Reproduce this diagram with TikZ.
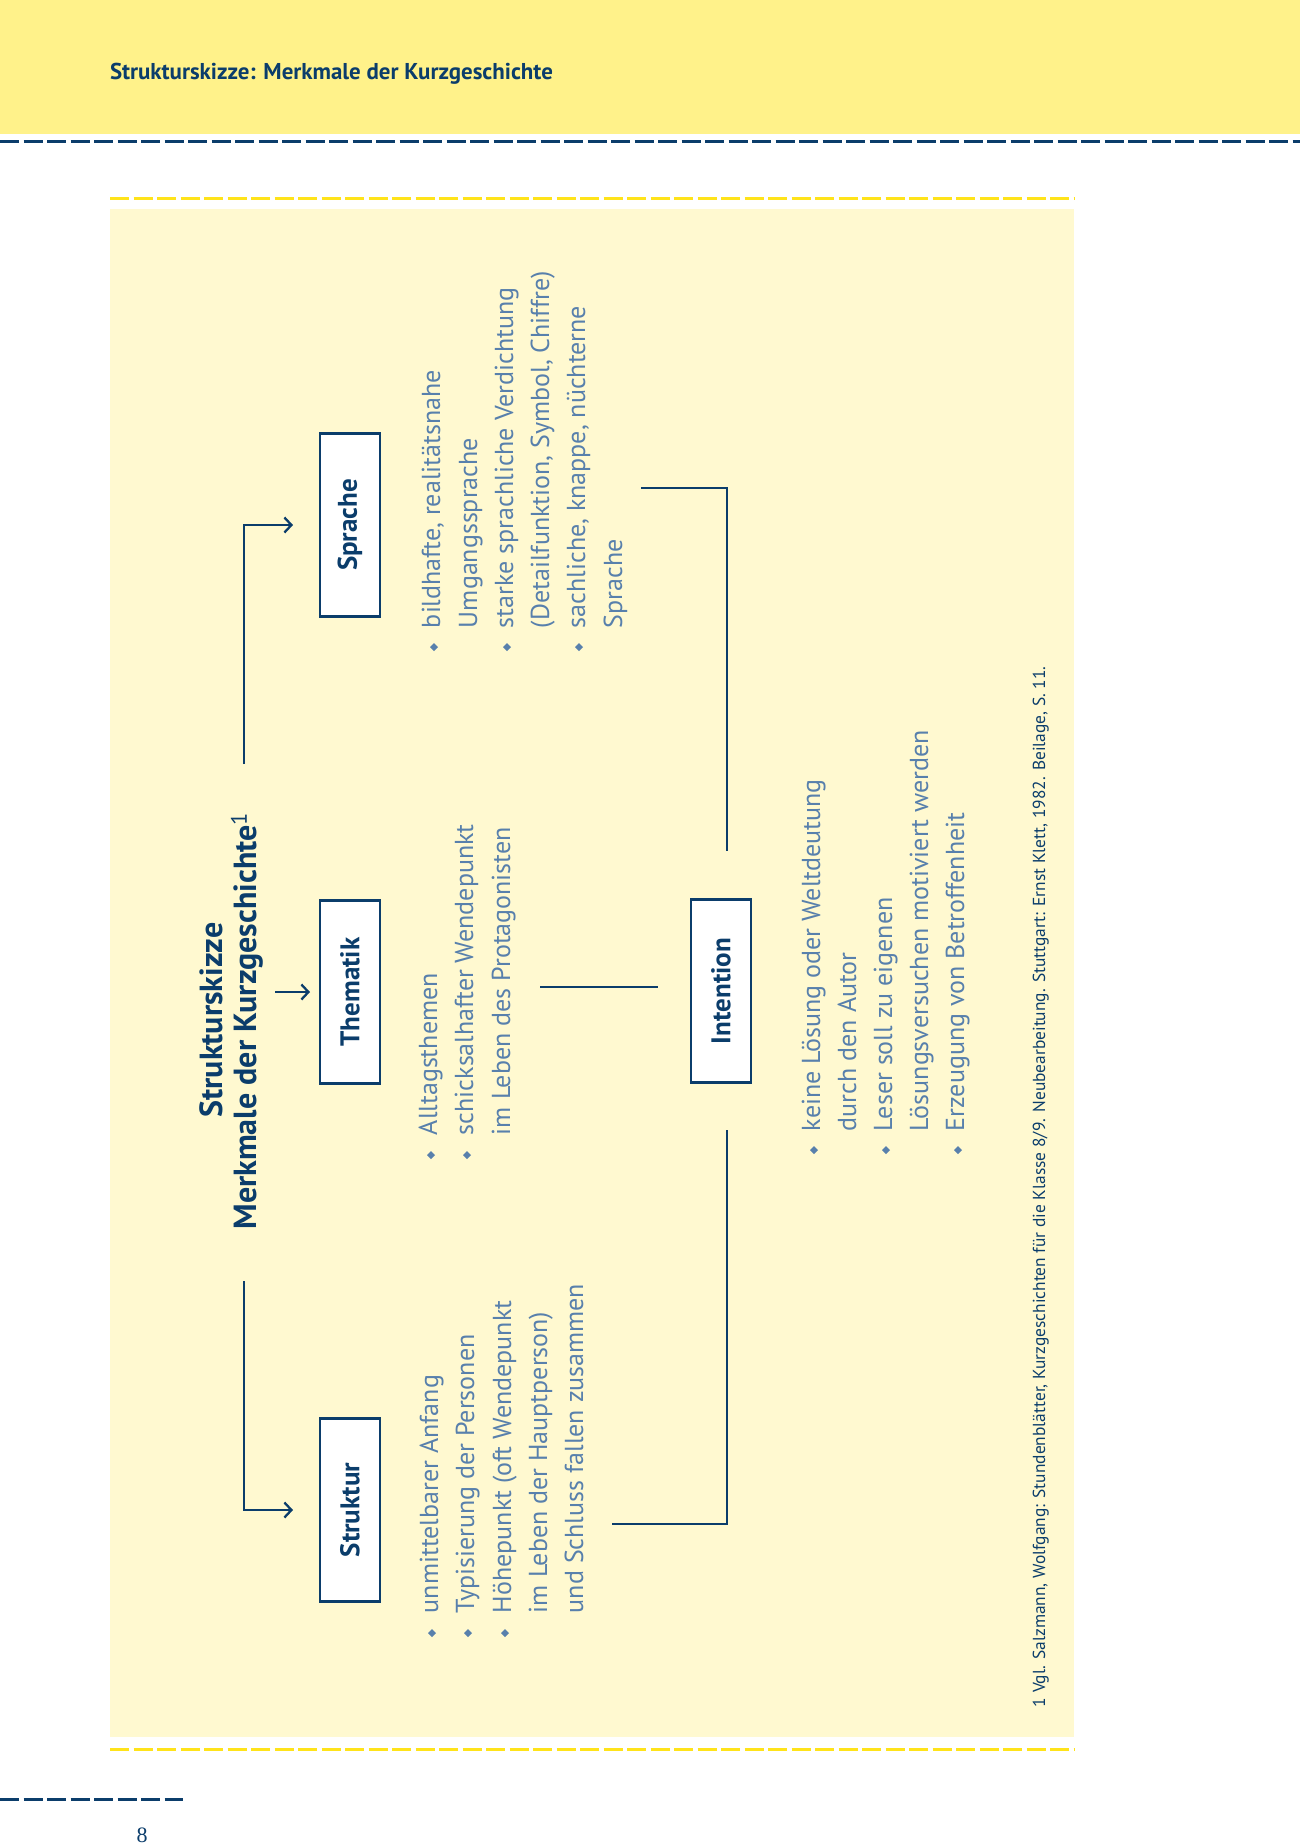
\documentclass[tikz,border=0pt]{standalone}
\usepackage{fontspec}
\setmainfont{PT Sans}
\newfontfamily\pagenumfont{Liberation Serif}
\usetikzlibrary{arrows.meta,shapes.geometric}
\definecolor{hdryellow}{HTML}{FFF28A}
\definecolor{boxyellow}{HTML}{FFF9D0}
\definecolor{dashyellow}{HTML}{FFE31A}
\definecolor{navy}{HTML}{0B3D6B}
\definecolor{lightblue}{HTML}{5880AC}
\begin{document}
\begin{tikzpicture}[x=1pt,y=-1pt,
  every node/.style={inner sep=0pt, outer sep=0pt},
  catbox/.style={draw=navy, line width=2.6pt, fill=white, rotate=90,
    minimum width=183pt, minimum height=60pt, text=navy,
    font=\fontsize{27}{32}\selectfont\bfseries},
  listtext/.style={rotate=90, anchor=base west, text=lightblue,
    font=\fontsize{26}{30}\selectfont},
  bul/.style={diamond, fill=lightblue, minimum width=8pt, minimum height=8pt},
  titletext/.style={rotate=90, anchor=base, text=navy,
    font=\fontsize{32}{36}\selectfont\bfseries},
  arrowline/.style={draw=navy, line width=2.3pt,
    -{Straight Barb[length=7pt,width=15pt]}},
  conn/.style={draw=navy, line width=2.7pt},
  navydash/.style={draw=navy, line width=3pt, dash pattern=on 19pt off 4.5pt},
  yellowdash/.style={draw=dashyellow, line width=3pt, dash pattern=on 19pt off 4.5pt}
]
\useasboundingbox (0,0) rectangle (1300,1848);
% page background pieces
\fill[hdryellow] (0,0) rectangle (1300,134);
\draw[navydash] (0,141) -- (1300,141);
\draw[yellowdash] (110,198) -- (1074,198);
\fill[boxyellow] (110,209) rectangle (1074,1737);
\draw[yellowdash] (110,1749) -- (1074,1749);
\draw[navydash] (0,1799) -- (183,1799);

% header and page number
\node[anchor=base west, text=navy, font=\fontsize{22.9}{27}\selectfont\bfseries] (hdr) at (110,79)
  {Strukturskizze: Merkmale der Kurzgeschichte};
\node[text=navy, font=\pagenumfont\fontsize{22}{26}\selectfont] (pnum) at (142,1835) {8};

% title
\node[titletext] (t1) at (222,1020) {Strukturskizze};
\node[titletext] (t2) at (256,1021) {Merkmale der Kurzgeschichte\textsuperscript{\mdseries 1}};

% category boxes
\node[catbox] (struktur) at (350,1510) {Struktur};
\node[catbox] (thematik) at (350,992) {Thematik};
\node[catbox] (sprache) at (350,525) {Sprache};
\node[catbox] (intention) at (721,991) {Intention};

% arrows from title
\coordinate (fa) at (244,1281);
\coordinate (fb) at (244,764);
\coordinate (fc) at (275,992);
\draw[arrowline, shorten >=27pt] (fa) |- (struktur.north);
\draw[arrowline, shorten >=27pt] (fb) |- (sprache.north);
\draw[arrowline, shorten >=10pt] (fc) -- (thematik.north);

% Struktur list
\node[listtext] (s1) at (438,1613) {unmittelbarer Anfang};
\node[listtext] (s2) at (474,1613) {Typisierung der Personen};
\node[listtext] (s3) at (511,1613) {Höhepunkt (oft Wendepunkt};
\node[listtext] (s4) at (547,1613) {im Leben der Hauptperson)};
\node[listtext] (s5) at (583,1613) {und Schluss fallen zusammen};
\node[bul] (sb1) at (432,1633) {};
\node[bul] (sb2) at (468,1633) {};
\node[bul] (sb3) at (505,1633) {};

% Thematik list
\node[listtext] (th1) at (437,1135) {Alltagsthemen};
\node[listtext] (th2) at (473,1135) {schicksalhafter Wendepunkt};
\node[listtext] (th3) at (510,1135) {im Leben des Protagonisten};
\node[bul] (thb1) at (431,1155) {};
\node[bul] (thb2) at (467,1155) {};

% Sprache list
\node[listtext] (sp1) at (440,628) {bildhafte, realitätsnahe};
\node[listtext] (sp2) at (477,628) {Umgangssprache};
\node[listtext] (sp3) at (513,628) {starke sprachliche Verdichtung};
\node[listtext] (sp4) at (549,628) {(Detailfunktion, Symbol, Chiffre)};
\node[listtext] (sp5) at (585,628) {sachliche, knappe, nüchterne};
\node[listtext] (sp6) at (622,628) {Sprache};
\node[bul] (spb1) at (434,647) {};
\node[bul] (spb2) at (507,647) {};
\node[bul] (spb3) at (579,647) {};

% Intention list
\node[listtext] (i1) at (820,1131) {keine Lösung oder Weltdeutung};
\node[listtext] (i2) at (856,1131) {durch den Autor};
\node[listtext] (i3) at (892,1131) {Leser soll zu eigenen};
\node[listtext] (i4) at (928,1131) {Lösungsversuchen motiviert werden};
\node[listtext] (i5) at (964,1131) {Erzeugung von Betroffenheit};
\node[bul] (ib1) at (814,1150) {};
\node[bul] (ib2) at (886,1150) {};
\node[bul] (ib3) at (958,1150) {};

% connectors to Intention
\coordinate (k1a) at (612,1524);
\coordinate (k1b) at (727,1130);
\coordinate (k2a) at (540,987);
\coordinate (k2b) at (658,987);
\coordinate (k3a) at (641,488);
\coordinate (k3b) at (727,851);
\draw[conn] (k1a) -| (k1b);
\draw[conn] (k2a) -- (k2b);
\draw[conn] (k3a) -| (k3b);

% footnote
\node[rotate=90, anchor=base west, text=navy, font=\fontsize{17.4}{20}\selectfont] (fn) at (1045,1707)
  {1 Vgl. Salzmann, Wolfgang: Stundenblätter, Kurzgeschichten für die Klasse 8/9. Neubearbeitung. Stuttgart: Ernst Klett, 1982. Beilage, S. 11.};
\end{tikzpicture}
\end{document}
